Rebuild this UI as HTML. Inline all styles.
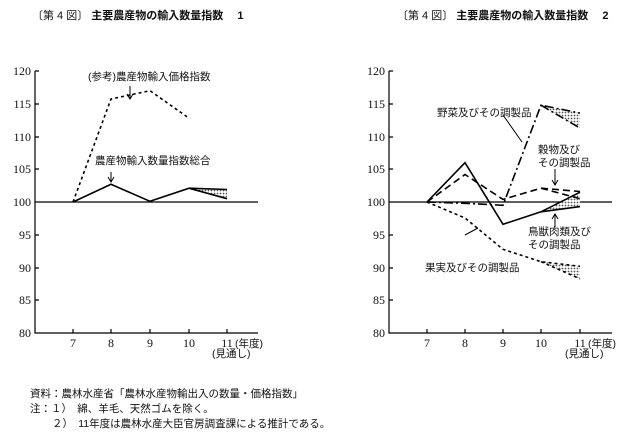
<!DOCTYPE html>
<html><head><meta charset="utf-8"><style>
body{margin:0;background:#fff}
svg{display:block;font-family:"Liberation Serif","Noto Serif CJK SC","Noto Sans CJK JP",serif}
.j{font-family:"Liberation Sans","Noto Sans CJK JP",sans-serif}
</style></head><body>
<svg width="625" height="439" viewBox="0 0 625 439" xmlns="http://www.w3.org/2000/svg">
<defs><pattern id="h" width="3" height="3" patternUnits="userSpaceOnUse"><rect width="3" height="3" fill="#fff"/><circle cx="1.5" cy="1.5" r="0.9" fill="#555"/></pattern></defs>
<g class="j" font-size="11" fill="#111">
<text x="32" y="19">〔第 4 図〕  <tspan font-weight="bold">主要農産物の輸入数量指数　 1</tspan></text>
<text x="397" y="19">〔第 4 図〕  <tspan font-weight="bold">主要農産物の輸入数量指数　 2</tspan></text>
</g>
<g stroke="#000" stroke-width="1.2" fill="none">
<path d="M35 71V333H258M35 202H258"/>
<path d="M35 71h4M35 104h4M35 137h4M35 169h4M35 235h4M35 268h4M35 300h4"/>
<path d="M73 333v-4M111 333v-4M150 333v-4M189 333v-4M227 333v-4"/>
<path d="M389 71V333H612M389 202H612"/>
<path d="M389 71h4M389 104h4M389 137h4M389 169h4M389 235h4M389 268h4M389 300h4"/>
<path d="M427 333v-4M465 333v-4M503 333v-4M541 333v-4M580 333v-4"/>
</g>
<g font-size="12" fill="#111" text-anchor="end">
<text x="31" y="75">120</text><text x="31" y="108">115</text><text x="31" y="141">110</text><text x="31" y="173">105</text><text x="31" y="206">100</text><text x="31" y="239">95</text><text x="31" y="272">90</text><text x="31" y="304">85</text><text x="31" y="337">80</text>
<text x="385" y="75">120</text><text x="385" y="108">115</text><text x="385" y="141">110</text><text x="385" y="173">105</text><text x="385" y="206">100</text><text x="385" y="239">95</text><text x="385" y="272">90</text><text x="385" y="304">85</text><text x="385" y="337">80</text>
</g>
<g font-size="12" fill="#111" text-anchor="middle">
<text x="73" y="347">7</text><text x="111" y="347">8</text><text x="150" y="347">9</text><text x="189" y="347">10</text><text x="227" y="347">11</text>
<text x="427" y="347">7</text><text x="465" y="347">8</text><text x="503" y="347">9</text><text x="541" y="347">10</text><text x="580" y="347">11</text>
</g>
<g class="j" font-size="10.5" fill="#111">
<text x="235" y="347">(年度)</text><text x="212" y="357">(見通し)</text>
<text x="588" y="347">(年度)</text><text x="565" y="357">(見通し)</text>
</g>
<!-- left series -->
<path d="M189 188L227 189.5L227 198.7Z" fill="url(#h)"/>
<path d="M73 202L111 99L150 90.7L189 118.2" stroke="#000" stroke-width="1.6" stroke-dasharray="3,3" fill="none"/>
<path d="M73 202L111 184.3L150 201.3L189 188.2L227 198.7M189 188.2L227 189.5" stroke="#000" stroke-width="1.6" fill="none"/>
<path d="M130 86V98M127 94l3 5 3-5M111 172v10M108 177l3 5 3-5" stroke="#000" stroke-width="1" fill="none"/>
<g class="j" font-size="10.5" fill="#111"><text x="88" y="80">(参考)農産物輸入価格指数</text><text x="95" y="164">農産物輸入数量指数総合</text></g>
<!-- right series -->
<path d="M541 105.2L580 113.1L580 128.1Z" fill="url(#h)"/>
<path d="M541 211.8L580 192.2L580 206.6Z" fill="url(#h)"/>
<path d="M541 261.7L580 266.3L580 278.8Z" fill="url(#h)"/>
<path d="M427 202L465 162.7L503 224.3L541 211.8L580 192.2M541 211.8L580 206.6" stroke="#000" stroke-width="1.6" fill="none"/>
<path d="M427 202L465 203.3L503 205.3L541 105.2L580 113.1M541 105.2L580 128.1" stroke="#000" stroke-width="1.6" stroke-dasharray="9,3,2,3" fill="none"/>
<path d="M427 202L465 174.5L503 199.4L541 188.2L580 191.5M541 188.2L580 198.7" stroke="#000" stroke-width="1.6" stroke-dasharray="7,4" fill="none"/>
<path d="M427 202L465 218L503 249.3L541 261.7L580 266.3M541 261.7L580 278.8" stroke="#000" stroke-width="1.6" stroke-dasharray="3,3" fill="none"/>
<path d="M503 115L522 142M555 169v16M552 180l3 5 3-5M555 227v-12M552 219l3-5 3 5M465 235L478 228" stroke="#000" stroke-width="1" fill="none"/>
<g class="j" font-size="10.5" fill="#111">
<text x="437" y="116">野菜及びその調製品</text>
<text x="538" y="153">穀物及び</text><text x="538" y="166">その調製品</text>
<text x="528" y="235">鳥獣肉類及び</text><text x="528" y="248">その調製品</text>
<text x="425" y="271">果実及びその調製品</text>
</g>
<g class="j" font-size="10.5" fill="#111">
<text x="30" y="397">資料：農林水産省「農林水産物輸出入の数量・価格指数」</text>
<text x="30" y="412">注：１）　綿、羊毛、天然ゴムを除く。</text>
<text x="52" y="427">２）　11年度は農林水産大臣官房調査課による推計である。</text>
</g>
</svg>
</body></html>
